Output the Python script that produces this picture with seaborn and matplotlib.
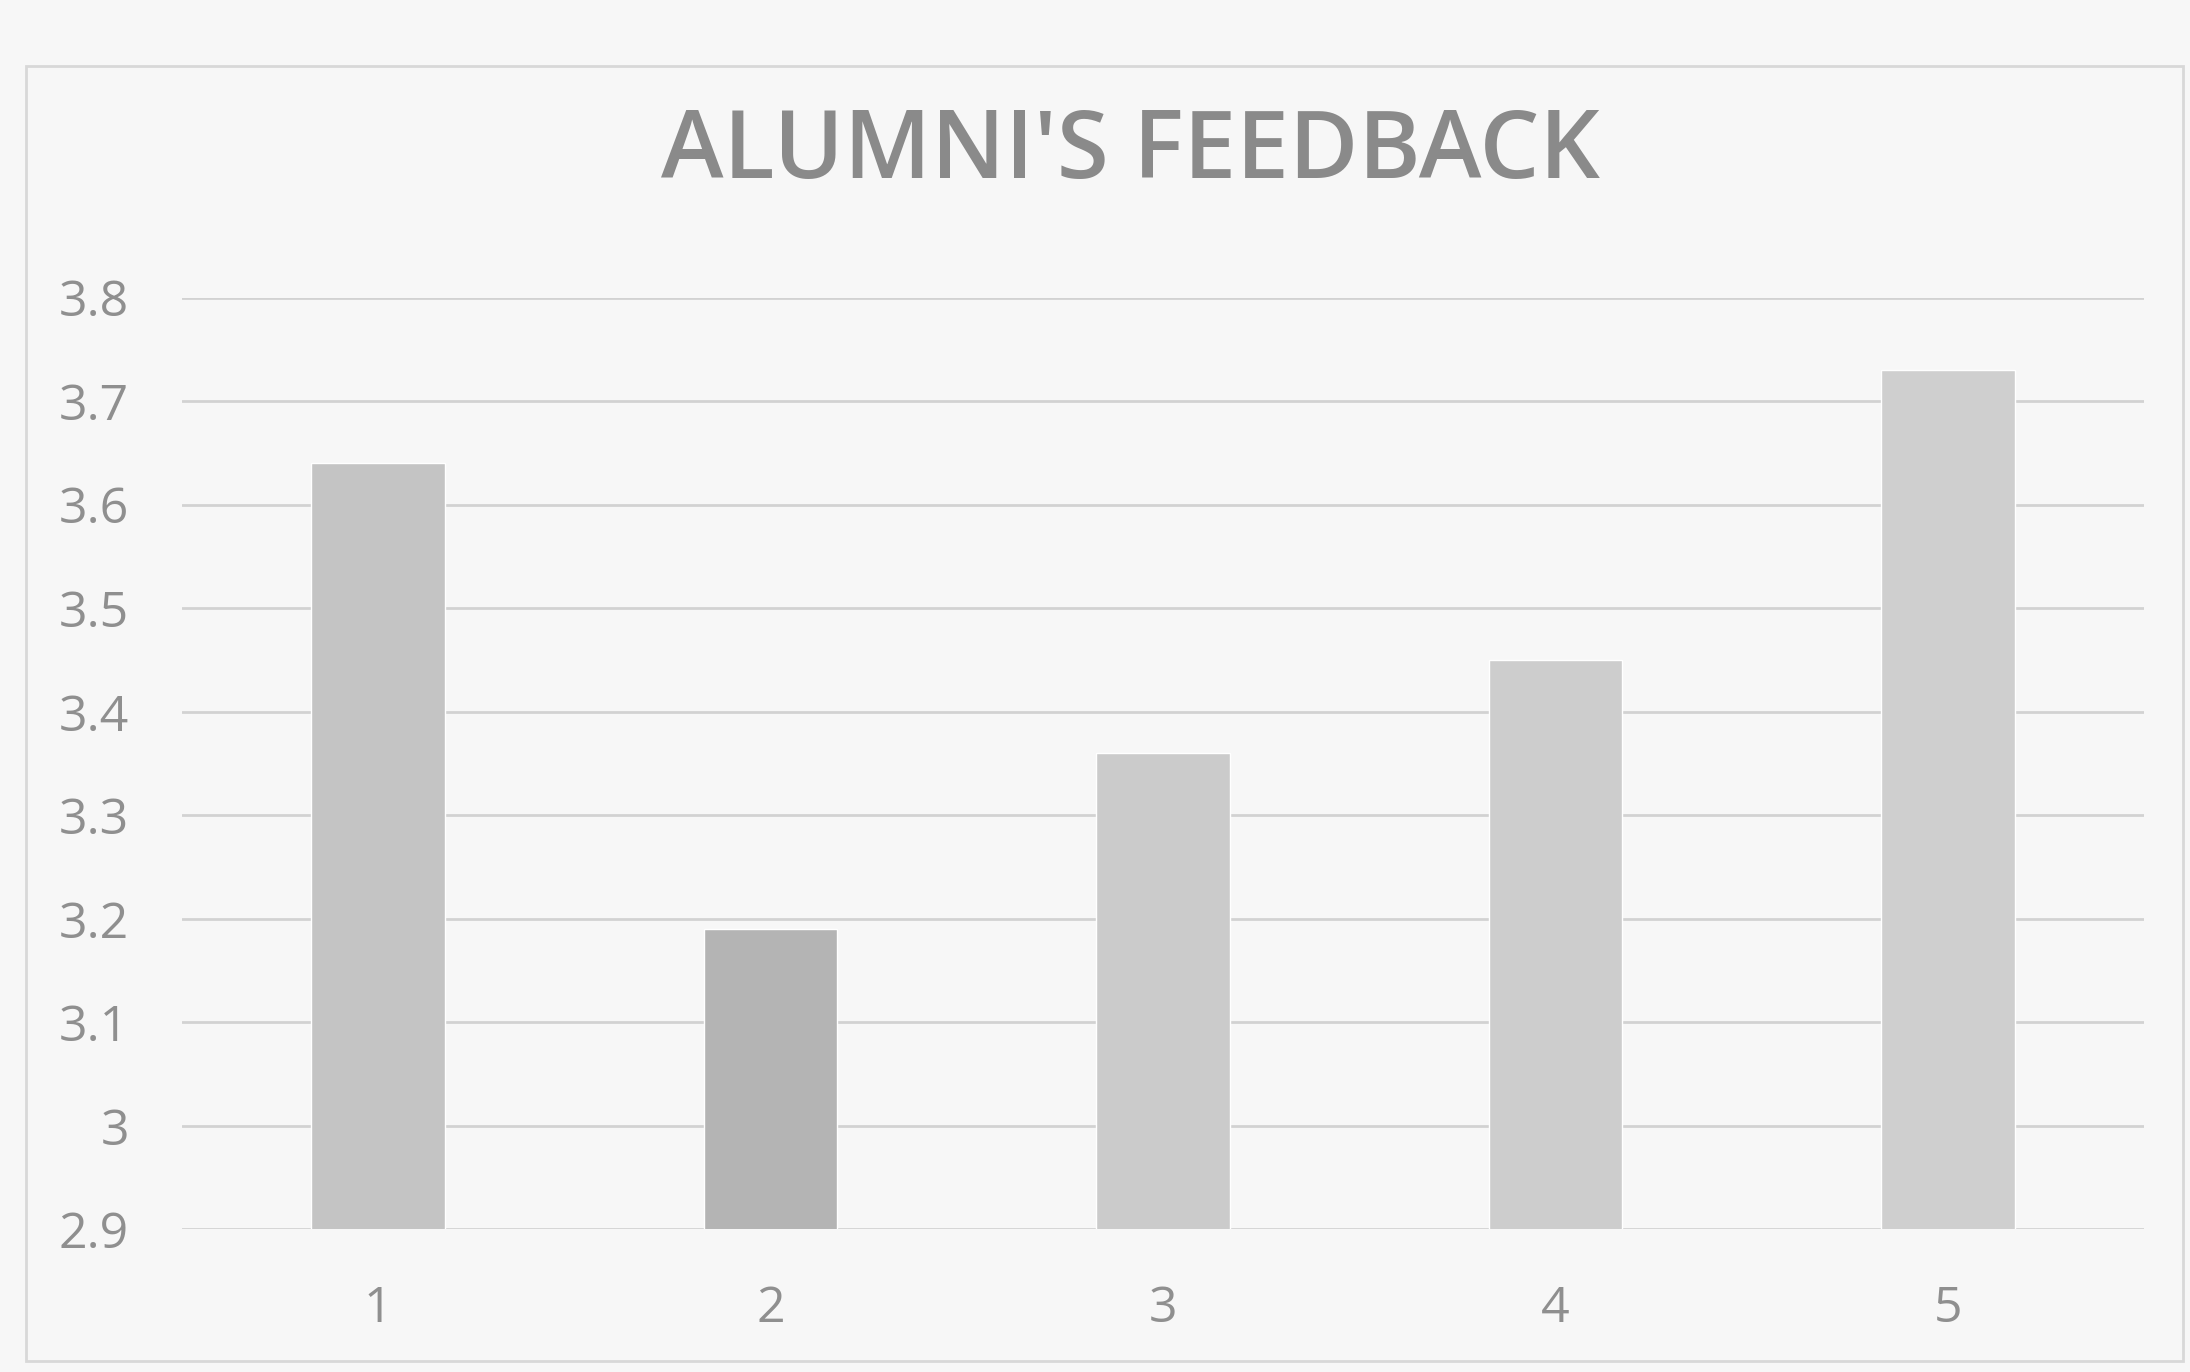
import matplotlib.pyplot as plt
import pandas as pd
import seaborn as sns
from matplotlib.patches import Rectangle

categories = ["1", "2", "3", "4", "5"]
scores = [3.64, 3.19, 3.36, 3.45, 3.73]
bar_colors = ["#c4c4c4", "#b4b4b4", "#cbcbcb", "#cdcdcd", "#cfcfcf"]
y_ticks = [2.9, 3.0, 3.1, 3.2, 3.3, 3.4, 3.5, 3.6, 3.7, 3.8]
y_labels = ["2.9", "3", "3.1", "3.2", "3.3", "3.4", "3.5", "3.6", "3.7", "3.8"]

df = pd.DataFrame({"item": categories, "score": scores})

sns.set_style("white")
plt.rcParams["font.family"] = ["Open Sans", "DejaVu Sans"]

fig = plt.figure(figsize=(21.9, 13.72), dpi=100, facecolor="#f7f7f7")
ax = fig.add_axes([0.083, 0.104, 0.896, 0.679])
ax.set_facecolor("#f7f7f7")

sns.barplot(data=df, x="item", y="score", hue="item", palette=bar_colors,
            legend=False, width=0.34, ax=ax, zorder=3)

ax.set_ylim(2.9, 3.8)
ax.set_yticks(y_ticks)
ax.set_yticklabels(y_labels)
ax.yaxis.grid(True, color="#d2d2d2", linewidth=2, zorder=0)
ax.set_axisbelow(True)
sns.despine(ax=ax, left=True, bottom=True)
ax.tick_params(axis="both", length=0, labelsize=36, labelcolor="#8f8f8f")
ax.tick_params(axis="y", pad=38)
ax.tick_params(axis="x", pad=40)
ax.set_xlabel("")
ax.set_ylabel("")

fig.text(0.516, 0.888, "ALUMNI'S FEEDBACK", ha="center", va="center",
         fontsize=68, fontweight="semibold", color="#8a8a8a")

# chart area outline
fig.patches.append(Rectangle((0.012, 0.008), 0.985, 0.944, transform=fig.transFigure,
                             fill=False, edgecolor="#d8d8d8", linewidth=2))

fig.savefig("out.png", dpi=100, facecolor=fig.get_facecolor())
